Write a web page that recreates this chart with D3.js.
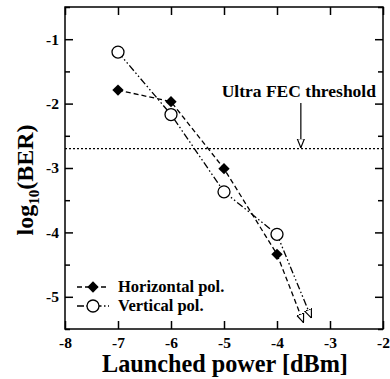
<!DOCTYPE html>
<html><head><meta charset="utf-8">
<script src="https://cdn.jsdelivr.net/npm/d3@7"></script>
<style>body{margin:0;background:#fff}svg{display:block}text{font-family:"Liberation Serif","Times New Roman",serif;font-weight:bold}</style>
</head><body>
<svg id="c" width="390" height="379"></svg>
<script>
const powers = [-7, -6, -5, -4];
const horizontal = [-1.79, -1.97, -3.01, -4.34];
const vertical = [-1.20, -2.17, -3.37, -4.03];
const horizontalArrowEnd = [-3.5, -5.4];
const verticalArrowEnd = [-3.35, -5.33];
const threshold = -2.70;
const thresholdLabelX = -3.55;
const xTicks = [-8, -7, -6, -5, -4, -3, -2];
const yTicks = [-5, -4, -3, -2, -1];
const yMinorTicks = [-5.5, -4.5, -3.5, -2.5, -1.5, -0.5];

const svg = d3.select("#c");
const L = 65, R = 383, T = 7, B = 329;
const x = d3.scaleLinear().domain([-8, -2]).range([L, R]);
const y = d3.scaleLinear().domain([-5.5, -0.5]).range([B, T]);

svg.append("rect").attr("x", L).attr("y", T).attr("width", R - L).attr("height", B - T)
  .attr("fill", "none").attr("stroke", "#000").attr("stroke-width", 1.5);

const xb = svg.append("g").attr("transform", `translate(0,${B})`)
  .call(d3.axisBottom(x).tickValues(xTicks).tickSize(-8).tickPadding(8).tickFormat(d => d));
const xt = svg.append("g").attr("transform", `translate(0,${T})`)
  .call(d3.axisTop(x).tickValues(xTicks).tickSize(-8).tickFormat(""));
const yl = svg.append("g").attr("transform", `translate(${L},0)`)
  .call(d3.axisLeft(y).tickValues(yTicks).tickSize(-8).tickPadding(6).tickFormat(d => d));
const yr = svg.append("g").attr("transform", `translate(${R},0)`)
  .call(d3.axisRight(y).tickValues(yTicks).tickSize(-8).tickFormat(""));
const ylm = svg.append("g").attr("transform", `translate(${L},0)`)
  .call(d3.axisLeft(y).tickValues(yMinorTicks).tickSize(-5).tickFormat(""));
const yrm = svg.append("g").attr("transform", `translate(${R},0)`)
  .call(d3.axisRight(y).tickValues(yMinorTicks).tickSize(-5).tickFormat(""));
[xb, xt, yl, yr, ylm, yrm].forEach(g => {
  g.select(".domain").remove();
  g.selectAll("line").attr("stroke", "#000").attr("stroke-width", 1.5);
  g.selectAll("text").attr("font-size", 15.5).attr("fill", "#000")
    .attr("font-family", '"Liberation Serif",serif').attr("font-weight", "bold")
    .text(function(){ return this.textContent.replace("\u2212", "-"); });
});

svg.append("line").attr("x1", L).attr("x2", R).attr("y1", y(threshold)).attr("y2", y(threshold))
  .attr("stroke", "#000").attr("stroke-width", 1.3).attr("stroke-dasharray", "2,2");

const defs = svg.append("defs");
defs.append("marker").attr("id", "oa").attr("viewBox", "0 0 10 10").attr("refX", 10).attr("refY", 5)
  .attr("markerWidth", 9).attr("markerHeight", 9).attr("markerUnits", "userSpaceOnUse").attr("orient", "auto")
  .append("path").attr("d", "M0,1 L10,5 L0,9 Z").attr("fill", "#fff").attr("stroke", "#000").attr("stroke-width", 1.3);

svg.append("text").attr("x", x(thresholdLabelX) - 2).attr("y", 97).attr("text-anchor", "middle")
  .attr("font-size", 17.5).text("Ultra FEC threshold");
svg.append("line").attr("x1", x(thresholdLabelX)).attr("x2", x(thresholdLabelX))
  .attr("y1", 103).attr("y2", y(threshold) - 1).attr("stroke", "#000").attr("stroke-width", 1.2)
  .attr("marker-end", "url(#oa)");

const line = d3.line().x(d => x(d[0])).y(d => y(d[1]));
const hData = powers.map((p, i) => [p, horizontal[i]]);
const vData = powers.map((p, i) => [p, vertical[i]]);
const hDash = "5,3", vDash = "7,2.5,1.5,2.5,1.5,2.5";

svg.append("path").attr("d", line(hData)).attr("fill", "none").attr("stroke", "#000")
  .attr("stroke-width", 1.3).attr("stroke-dasharray", hDash);
svg.append("path").attr("d", line(vData)).attr("fill", "none").attr("stroke", "#000")
  .attr("stroke-width", 1.3).attr("stroke-dasharray", vDash);

svg.append("path").attr("d", line([hData[3], horizontalArrowEnd])).attr("fill", "none").attr("stroke", "#000")
  .attr("stroke-width", 1.3).attr("stroke-dasharray", hDash).attr("marker-end", "url(#oa)");
svg.append("path").attr("d", line([vData[3], verticalArrowEnd])).attr("fill", "none").attr("stroke", "#000")
  .attr("stroke-width", 1.3).attr("stroke-dasharray", vDash).attr("marker-end", "url(#oa)");

const diamond = d3.symbol().type(d3.symbolSquare).size(64);
svg.selectAll(".hm").data(hData).enter().append("path")
  .attr("d", diamond).attr("transform", d => `translate(${x(d[0])},${y(d[1])}) rotate(45)`).attr("fill", "#000");
svg.selectAll(".vm").data(vData).enter().append("circle")
  .attr("cx", d => x(d[0])).attr("cy", d => y(d[1])).attr("r", 6)
  .attr("fill", "#fff").attr("stroke", "#000").attr("stroke-width", 1.3);

const lg = [{label: "Horizontal pol.", dash: hDash, m: "d", y: 287}, {label: "Vertical pol.", dash: vDash, m: "c", y: 306}];
lg.forEach(e => {
  svg.append("line").attr("x1", 77).attr("x2", 109).attr("y1", e.y).attr("y2", e.y)
    .attr("stroke", "#000").attr("stroke-width", 1.3).attr("stroke-dasharray", e.dash);
  if (e.m === "d") svg.append("path").attr("d", diamond).attr("transform", `translate(93,${e.y}) rotate(45)`).attr("fill", "#000");
  else svg.append("circle").attr("cx", 93).attr("cy", e.y).attr("r", 6).attr("fill", "#fff").attr("stroke", "#000").attr("stroke-width", 1.3);
  svg.append("text").attr("x", 118).attr("y", e.y + 5).attr("font-size", 16.5).text(e.label);
});

const xTitle = svg.append("text").attr("x", 225).attr("y", 372).attr("text-anchor", "middle").attr("font-size", 24)
  .text("Launched power [dBm]");
const w = xTitle.node().getComputedTextLength();
if (w > 0) xTitle.attr("font-size", 24 * 246 / w);
const yt = svg.append("text").attr("transform", "translate(33,180) rotate(-90)").attr("text-anchor", "middle").attr("font-size", 24);
yt.append("tspan").text("log");
yt.append("tspan").attr("font-size", 15).attr("dy", 6).text("10");
yt.append("tspan").attr("dy", -6).text("(BER)");
</script>
</body></html>
